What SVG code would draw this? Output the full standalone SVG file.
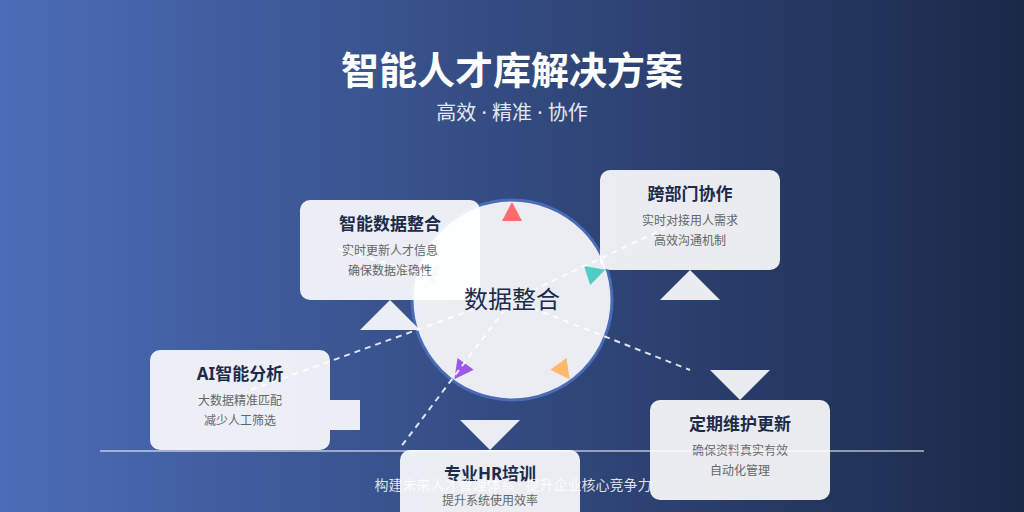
<svg xmlns="http://www.w3.org/2000/svg" width="1024" height="512" viewBox="0 0 1024 512">
  <defs>
    <linearGradient id="bg" x1="0" y1="0" x2="1" y2="0">
      <stop offset="0" stop-color="#4b6cb7"/>
      <stop offset="1" stop-color="#1b2949"/>
    </linearGradient>
    <path id="mk" d="M0,-11 L10,8 L-10,8 Z"/>
  </defs>
  <style>
    text { font-family: "Noto Sans", "Noto Sans CJK SC", sans-serif; }
    .title { font-size: 38px; font-weight: 700; fill: #ffffff; text-anchor: middle; }
    .subtitle { font-size: 20px; fill: #e2e8f3; text-anchor: middle; }
    .box { fill: #ffffff; fill-opacity: 0.9; }
    .ptr { fill: #ffffff; fill-opacity: 0.9; }
    .h { font-size: 17px; font-weight: 700; fill: #1e2a4a; text-anchor: middle; }
    .d { font-size: 12px; fill: #666666; text-anchor: middle; }
    .conn { stroke: #ffffff; stroke-width: 2; stroke-dasharray: 6 5; fill: none; stroke-opacity: 0.85; }
    .hubtxt { font-size: 24px; fill: #1e2a4a; text-anchor: middle; }
    .footer { font-size: 14px; fill: #ffffff; fill-opacity: 0.85; text-anchor: middle; }
  </style>

  <rect x="0" y="0" width="1024" height="512" fill="url(#bg)"/>

  <g id="header">
    <text class="title" x="512" y="84">智能人才库解决方案</text>
    <text class="subtitle" x="512" y="120">高效 · 精准 · 协作</text>
  </g>

  <g id="hub">
    <circle cx="512" cy="300" r="100" fill="#ffffff" fill-opacity="0.9" stroke="#4a6bb8" stroke-width="3"/>
    <use href="#mk" fill="#ff6b6b" transform="translate(512,300) rotate(0) translate(0,-87)"/>
    <use href="#mk" fill="#4ecdc4" transform="translate(512,300) rotate(72) translate(0,-87)"/>
    <use href="#mk" fill="#ffb86c" transform="translate(512,300) rotate(144) translate(0,-87)"/>
    <use href="#mk" fill="#9b59e6" transform="translate(512,300) rotate(216) translate(0,-87)"/>
    <use href="#mk" fill="#8fd8f8" transform="translate(512,300) rotate(288) translate(0,-87)"/>
  </g>

  <g id="node-data">
    <rect class="box" x="300" y="200" width="180" height="100" rx="10"/>
    <polygon class="ptr" points="360,330 420,330 390,300"/>
    <text class="h" x="390" y="230">智能数据整合</text>
    <text class="d" x="390" y="255">实时更新人才信息</text>
    <text class="d" x="390" y="275">确保数据准确性</text>
  </g>

  <g id="node-collab">
    <rect class="box" x="600" y="170" width="180" height="100" rx="10"/>
    <polygon class="ptr" points="660,300 720,300 690,270"/>
    <text class="h" x="690" y="200">跨部门协作</text>
    <text class="d" x="690" y="225">实时对接用人需求</text>
    <text class="d" x="690" y="245">高效沟通机制</text>
  </g>

  <g id="node-ai">
    <rect class="box" x="150" y="350" width="180" height="100" rx="10"/>
    <rect class="ptr" x="330" y="400" width="30" height="30"/>
    <text class="h" x="240" y="380">AI智能分析</text>
    <text class="d" x="240" y="405">大数据精准匹配</text>
    <text class="d" x="240" y="425">减少人工筛选</text>
  </g>

  <g id="node-maint">
    <rect class="box" x="650" y="400" width="180" height="100" rx="10"/>
    <polygon class="ptr" points="710,370 770,370 740,400"/>
    <text class="h" x="740" y="430">定期维护更新</text>
    <text class="d" x="740" y="455">确保资料真实有效</text>
    <text class="d" x="740" y="475">自动化管理</text>
  </g>

  <g id="node-hr">
    <rect class="box" x="400" y="450" width="180" height="100" rx="10"/>
    <polygon class="ptr" points="460,420 520,420 490,450"/>
    <text class="h" x="490" y="480">专业HR培训</text>
    <text class="d" x="490" y="505">提升系统使用效率</text>
  </g>

  <g id="connectors">
    <line class="conn" x1="512" y1="300" x2="665" y2="228"/>
    <line class="conn" x1="512" y1="300" x2="690" y2="370"/>
    <line class="conn" x1="512" y1="300" x2="400" y2="448"/>
    <line class="conn" x1="505" y1="298" x2="245" y2="392"/>
    <line class="conn" x1="512" y1="300" x2="335" y2="248"/>
  </g>

  <g id="hub-label">
    <text class="hubtxt" x="512" y="308">数据整合</text>
  </g>

  <g id="footer">
    <line x1="100" y1="451" x2="924" y2="451" stroke="#ffffff" stroke-opacity="0.5" stroke-width="2"/>
    <text class="footer" x="513" y="490">构建未来人才管理体系 · 提升企业核心竞争力</text>
  </g>
</svg>
